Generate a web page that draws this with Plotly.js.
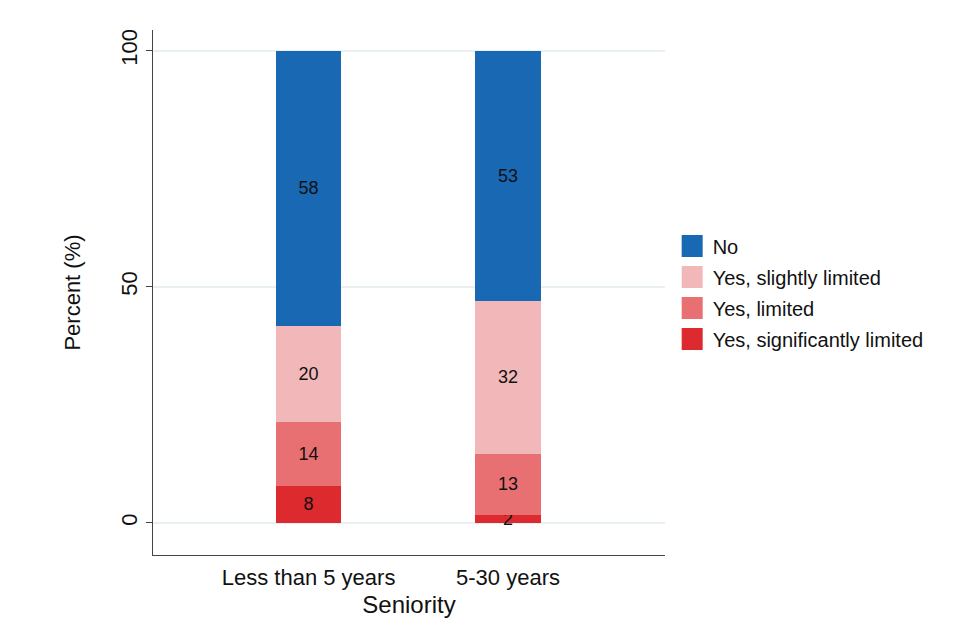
<!DOCTYPE html>
<html>
<head>
<meta charset="utf-8">
<script src="https://cdn.plot.ly/plotly-3.0.1.min.js"></script>
<style>html,body{margin:0;padding:0;background:#fff;}#chart{width:957px;height:641px;}</style>
</head>
<body>
<div id="chart"></div>
<script>
const categories = ["Less than 5 years", "5-30 years"];
const seriesNames = ["Yes, significantly limited", "Yes, limited", "Yes, slightly limited", "No"];
const sigLimited = [7.8, 1.7];
const limited = [13.6, 12.9];
const slightlyLimited = [20.3, 32.4];
const no = [58.3, 53.0];
const colors = ["#dc2a2f", "#e87072", "#f2b8b9", "#1868b3"];
const yTicks = [0, 50, 100];

const values = [sigLimited, limited, slightlyLimited, no];
const traces = values.map((v, i) => ({
  type: "bar",
  name: seriesNames[i],
  legendgroup: "g" + i,
  legendrank: 1000 - i,
  x: categories,
  y: v,
  marker: {color: colors[i], line: {width: 0}},
  width: 0.33,
  text: v.map(d => Math.round(d).toString()),
  texttemplate: "%{text}",
  textposition: "inside",
  insidetextanchor: "middle",
  textangle: 0,
  constraintext: "none",
  insidetextfont: {family: "Liberation Sans, Arial, sans-serif", size: 18, color: "#111"},
  hoverinfo: "skip"
}));

const layout = {
  width: 957, height: 641,
  paper_bgcolor: "#ffffff", plot_bgcolor: "#ffffff",
  barmode: "stack",
  uniformtext: {mode: "show", minsize: 18},
  margin: {l: 153, r: 292, t: 30, b: 86},
  font: {family: "Liberation Sans, Arial, sans-serif", size: 20, color: "#111"},
  xaxis: {
    range: [-0.78, 1.787],
    showline: true, linecolor: "#444", linewidth: 1.2,
    ticks: "", showgrid: false, zeroline: false,
    tickfont: {size: 22},
    ticklabelstandoff: 2,
    title: {text: "Seniority", font: {size: 24}, standoff: 7}
  },
  yaxis: {
    range: [-6.8, 104.4],
    tickvals: yTicks, ticktext: yTicks.map(String),
    tickangle: -90,
    ticks: "outside", ticklen: 6, tickcolor: "#444",
    showline: true, linecolor: "#444", linewidth: 1.2,
    showgrid: true, gridcolor: "#e8f0f2", gridwidth: 1.5,
    zeroline: false,
    tickfont: {size: 22},
    title: {text: "Percent (%)", font: {size: 22}, standoff: 30}
  },
  legend: {
    x: 1.015, xanchor: "left", y: 0.5, yanchor: "middle",
    traceorder: "grouped",
    font: {size: 20},
    itemwidth: 30,
    tracegroupgap: 2,
    bgcolor: "rgba(0,0,0,0)"
  },
  showlegend: true
};

Plotly.newPlot("chart", traces, layout, {displayModeBar: false, staticPlot: true}).then(gd => {
  gd.querySelectorAll(".legend .legendpoints path").forEach(p => {
    p.setAttribute("d", "M10,11H-11V-11H10Z");
  });
});
</script>
</body>
</html>
